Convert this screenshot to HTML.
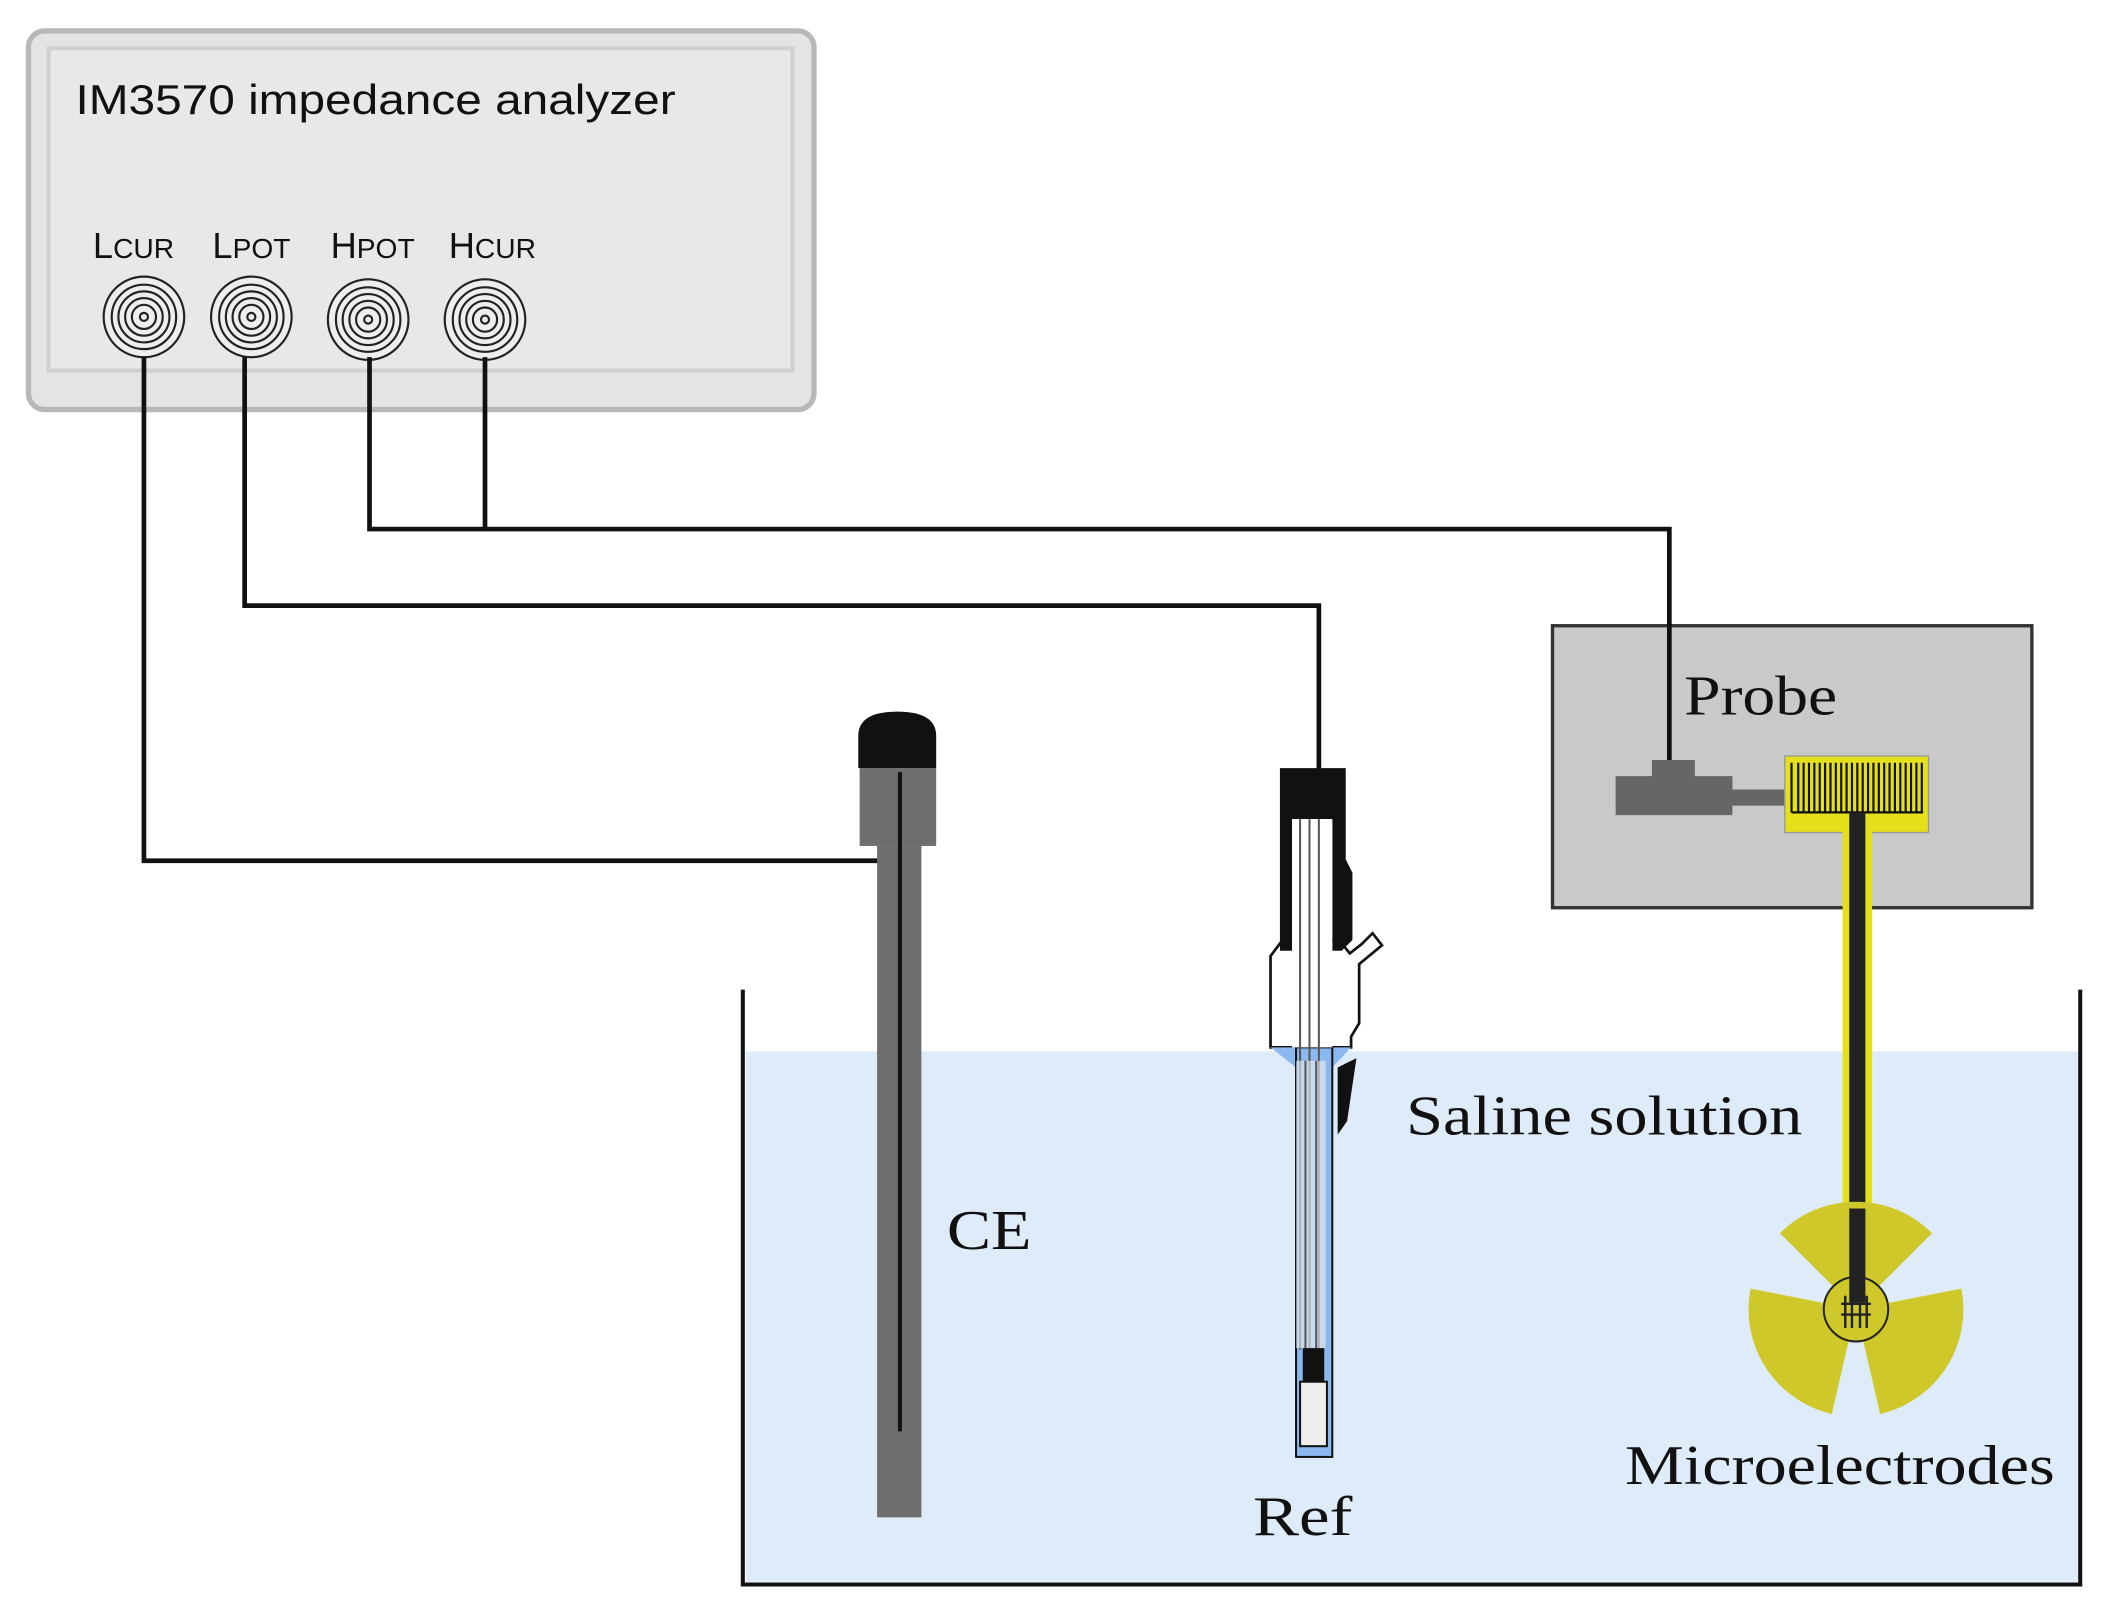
<!DOCTYPE html>
<html><head><meta charset="utf-8"><style>
html,body{margin:0;padding:0;background:#fff}
svg{display:block}
</style></head><body>
<svg width="2106" height="1610" viewBox="0 0 1568 1199" xmlns="http://www.w3.org/2000/svg">
<rect width="1568" height="1199" fill="#fff"/>
<!-- analyzer -->
<rect x="21" y="23" width="585" height="282" rx="12" fill="#e4e4e4" stroke="#b8b8b8" stroke-width="4"/>
<rect x="36" y="36" width="554" height="240" fill="#e8e8e8" stroke="#cfcfcf" stroke-width="3"/>
<text x="56" y="85" font-family="Liberation Sans, sans-serif" font-size="31" fill="#111" textLength="447" lengthAdjust="spacingAndGlyphs">IM3570 impedance analyzer</text>
<g font-family="Liberation Sans, sans-serif" fill="#111">
<text x="69" y="192" font-size="27">L<tspan font-size="21">CUR</tspan></text>
<text x="158" y="192" font-size="27">L<tspan font-size="21">POT</tspan></text>
<text x="246" y="192" font-size="27">H<tspan font-size="21">POT</tspan></text>
<text x="334" y="192" font-size="27">H<tspan font-size="21">CUR</tspan></text>
</g>
<g fill="none" stroke="#222" stroke-width="1.6">
<g transform="translate(107,236)"><circle r="30" fill="#eee"/><circle r="24"/><circle r="19"/><circle r="14"/><circle r="9"/><circle r="3"/></g>
<g transform="translate(187,236)"><circle r="30" fill="#eee"/><circle r="24"/><circle r="19"/><circle r="14"/><circle r="9"/><circle r="3"/></g>
<g transform="translate(274,238)"><circle r="30" fill="#eee"/><circle r="24"/><circle r="19"/><circle r="14"/><circle r="9"/><circle r="3"/></g>
<g transform="translate(361,238)"><circle r="30" fill="#eee"/><circle r="24"/><circle r="19"/><circle r="14"/><circle r="9"/><circle r="3"/></g>
</g>
<!-- tank -->
<rect x="555" y="783" width="993" height="395" fill="#deebf8"/>
<path d="M553 737 V1180 H1549 V737" fill="none" stroke="#111" stroke-width="3"/>
<!-- probe box -->
<rect x="1156" y="466" width="357" height="210" fill="#c9c9c9" stroke="#333" stroke-width="2.5"/>
<text x="1254" y="532" font-family="Liberation Serif, serif" font-size="42" fill="#111" textLength="114" lengthAdjust="spacingAndGlyphs">Probe</text>
<!-- wires -->
<g fill="none" stroke="#111" stroke-width="3.5">
<path d="M107 266 V641 H655"/>
<path d="M182 266 V451 H982 V575"/>
<path d="M275 266 V394 H1243 V570"/>
<path d="M361 266 V394"/>
</g>
<path d="M1230 566 H1262 V578 H1290 V588 H1330 V600 H1290 V607 H1203 V578 H1230 Z" fill="#666"/>
<rect x="1329" y="563" width="107" height="57" fill="#e4e01a" stroke="#999" stroke-width="1"/>
<g stroke="#111" stroke-width="1.6">
<path d="M1334 568V605M1339 568V605M1343 568V605M1347 568V605M1351 568V605M1355 568V605M1359 568V605M1363 568V605M1367 568V605M1371 568V605M1375 568V605M1379 568V605M1383 568V605M1387 568V605M1391 568V605M1395 568V605M1399 568V605M1403 568V605M1407 568V605M1411 568V605M1415 568V605M1419 568V605M1423 568V605M1427 568V605M1431 568V605"/>
<path d="M1334 605H1432" />
</g>
<rect x="1372" y="610" width="22" height="352" fill="#e4e01a"/>
<rect x="1377" y="605" width="12" height="357" fill="#222"/>
<!-- fan -->
<g fill="#cfc82a" transform="translate(1382,975)">
<path d="M0 0 L-56.6 -56.6 A80 80 0 0 1 56.6 -56.6 Z"/>
<path d="M0 0 L-78.5 -15.3 A80 80 0 0 0 -18 78 Z"/>
<path d="M0 0 L78.5 -15.3 A80 80 0 0 1 18 78 Z"/>
<circle r="24" fill="#cfc82a" stroke="#222" stroke-width="1.5"/>
<path d="M-8 -10V14M-3 -10V14M3 -10V14M8 -10V14M-11 -4H11M-11 4H11" stroke="#222" stroke-width="1.8"/>
</g>
<rect x="1377" y="900" width="12" height="70" fill="#222"/>
<!-- CE -->
<path d="M639 572 V548 Q639 530 668 530 Q697 530 697 548 V572 Z" fill="#111"/>
<rect x="640" y="572" width="57" height="58" fill="#6e6e6e"/>
<rect x="653" y="630" width="33" height="500" fill="#6e6e6e"/>
<line x1="670" y1="575" x2="670" y2="1066" stroke="#111" stroke-width="3"/>
<text x="705" y="930" font-family="Liberation Serif, serif" font-size="42" fill="#111" textLength="63" lengthAdjust="spacingAndGlyphs">CE</text>
<!-- Ref -->
<path d="M946 712 L955 700 H997 L1005 710 L1014 703 L1022 695 L1029 704 L1012 718 V762 L1006 772 V780 H946 Z" fill="#fff" stroke="#111" stroke-width="2"/>
<path d="M953 572 H1002 V640 L1007 650 V700 L999 708 H992 V610 H962 V708 H953 Z" fill="#111"/>
<path d="M946 780 H1006 L992 795 V1085 H965 V795 Z" fill="#8ab8ef"/>
<rect x="965" y="780" width="27" height="305" fill="none" stroke="#111" stroke-width="1.5"/>
<rect x="962" y="610" width="30" height="170" fill="#fff"/>
<g stroke="#555" stroke-width="1.5"><line x1="968" y1="610" x2="968" y2="1005"/><line x1="975" y1="610" x2="975" y2="1005"/><line x1="982" y1="610" x2="982" y2="1005"/></g>
<rect x="965" y="790" width="22" height="214" fill="#eee" opacity="0.6"/>
<g stroke="#555" stroke-width="1.5"><line x1="972" y1="790" x2="972" y2="1005"/><line x1="980" y1="790" x2="980" y2="1005"/></g>
<rect x="970" y="1004" width="16" height="25" fill="#111"/>
<rect x="968" y="1029" width="20" height="48" fill="#eee" stroke="#111" stroke-width="1.5"/>
<path d="M996 795 L1010 788 L1003 835 L996 845 Z" fill="#111"/>
<text x="933" y="1143" font-family="Liberation Serif, serif" font-size="42" fill="#111" textLength="74" lengthAdjust="spacingAndGlyphs">Ref</text>
<text x="1047" y="845" font-family="Liberation Serif, serif" font-size="42" fill="#111" textLength="295" lengthAdjust="spacingAndGlyphs">Saline solution</text>
<text x="1210" y="1105" font-family="Liberation Serif, serif" font-size="42" fill="#111" textLength="320" lengthAdjust="spacingAndGlyphs">Microelectrodes</text>
</svg>
</body></html>
